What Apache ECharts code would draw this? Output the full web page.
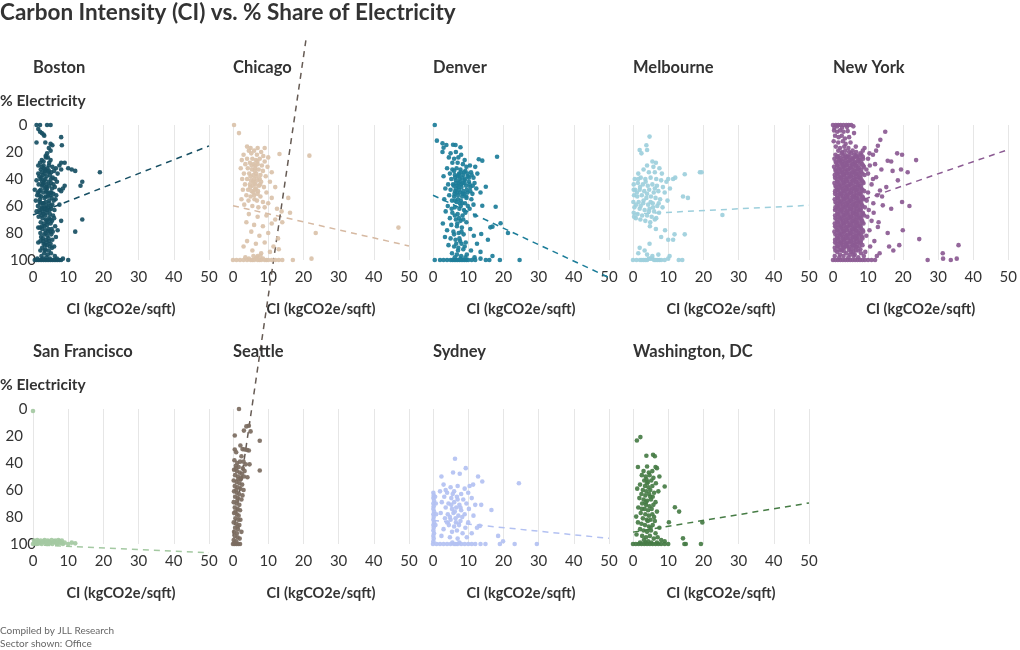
<!DOCTYPE html>
<html><head><meta charset="utf-8">
<script src="https://cdn.jsdelivr.net/npm/echarts@6/dist/echarts.min.js"></script>
<style>html,body{margin:0;padding:0;background:#fff}#c{width:1020px;height:650px}</style>
</head><body><div id="c"></div>
<script>
const cities = ['Boston','Chicago','Denver','Melbourne','New York','San Francisco','Seattle','Sydney','Washington, DC'];
const xTicks = [0,10,20,30,40,50];
const yTicks = [0,20,40,60,80,100];

const boston = [[1,0],[2,0],[4,0],[5,0],[1.5,3],[2,5],[2.5,6],[3,7],[3.2,8],[1,13],[3.5,13],[5,14],[5.5,15],[8,9],[8.2,15],[4.5,17],[5,19],[4,21],[3.6,23],[4.2,24],[2.5,26],[3,27],[5,26],[8,28],[9,28],[10,32],[11,33],[12,34],[19,35],[7.5,30],[6.5,32],[8,33],[7,36],[2,28],[3,30],[4.5,30],[5.5,31],[2.2,33],[3.4,34],[4.1,32],[5.2,35],[6,34],[1.5,36],[2.8,37],[3.9,38],[4.8,37],[5.6,39],[6.3,40],[1,41],[2.1,40],[3.2,41],[4.4,42],[5.1,43],[6.8,42],[14,42],[13.5,45],[9,45],[1.6,44],[2.6,45],[3.7,46],[4.6,45],[5.4,47],[6.2,46],[7.5,48],[8.5,47],[8,49],[0.5,48],[1.8,49],[2.9,50],[3.8,49],[4.9,50],[5.8,51],[1.2,52],[2.3,53],[3.3,54],[4.2,53],[5.3,54],[6.4,55],[0.8,56],[1.9,57],[2.8,58],[3.6,57],[4.5,58],[5.5,59],[7.5,59],[1.4,60],[2.5,61],[3.4,62],[4.3,61],[5.2,62],[6.1,63],[1,64],[2,65],[3,66],[3.9,65],[4.8,66],[5.7,67],[1.6,68],[2.7,69],[3.6,70],[4.6,69],[5.4,71],[8,71],[14,70],[2.2,72],[3.1,73],[4,74],[5,73],[6.3,75],[1.5,76],[2.6,77],[3.5,78],[4.4,77],[5.6,79],[7,78],[12,79],[2.1,80],[3.2,81],[4.1,82],[5.2,81],[6.5,83],[2.8,84],[3.7,85],[4.6,86],[5.5,85],[1.5,87],[3,88],[4,89],[5,88],[6,90],[2.6,91],[3.5,92],[4.5,93],[5.4,91],[3.2,95],[4.2,96],[5.1,95],[6.2,97],[2.4,97],[3.8,98],[0.5,100],[1,100],[1.5,100],[2,100],[2.5,100],[3,100],[3.5,100],[4,100],[4.5,100],[5,100],[5.5,100],[6,100],[6.5,100],[7,100],[7.5,100],[8,100],[8.5,99],[10,100],[1.2,99],[2.8,99],[4.8,99],[6.8,99],[2.5,35],[3,43],[4,47],[2,55],[3.8,60],[4.7,63],[2.4,67],[3.3,75],[4.3,79],[2.9,86],[4.9,52],[3.5,40],[2.2,48],[5.9,56],[1.8,63],[3,58],[4,50],[2.7,44],[3.6,53],[4.9,70],[2,76],[3.9,71],[5.3,77],[2.3,83],[3.4,89],[4.4,84],[3.1,32],[4.4,35],[2.4,39],[5.1,40],[3.8,44],[5.8,44],[1.4,50],[6.6,52],[1.5,30],[2.5,31],[3.5,33],[4.5,34],[1.8,38],[2.6,42],[3.4,47],[4.4,51],[2.2,58],[3.1,61],[4,63],[2.8,64],[3.5,67],[4.2,72],[2.6,75],[3.6,80],[4.9,79],[3.9,87],[2.1,93],[3.4,93],[4.8,90],[1.8,52],[4.6,56],[5.2,50],[2.4,62],[6,69],[2.1,86],[3.7,24],[4.6,28],[3.3,36],[5,60]];

const chicago = [[0.3,0],[1.7,6],[13.2,21.5],[21.7,22.7],[15.7,54],[16.2,65],[13.8,64],[23.5,80],[47,76],[22.3,99],[17,100],[4,16],[5,17],[7,17],[9,17],[4.5,19],[6,19],[8,20],[3,22],[5.2,21],[6.8,22],[8.6,23],[10,24],[2.5,26],[4,25],[5.5,25],[6.5,26],[7.6,25],[9,27],[3.5,29],[4.8,28],[5.9,29],[7,29],[8.2,30],[9.8,31],[2.2,32],[4.2,32],[5.4,33],[6.3,32],[7.3,33],[8.5,34],[11,35],[3.1,36],[4.6,36],[5.8,37],[6.6,36],[7.8,37],[9.3,38],[2.6,40],[4,40],[5.1,41],[6,40],[6.9,41],[8,42],[10.5,42],[3.4,44],[4.8,44],[5.6,45],[6.4,44],[7.4,45],[8.8,46],[12,46],[2.8,48],[4.3,48],[5.3,49],[6.2,48],[7.1,49],[9.5,50],[3.8,52],[5,53],[6,52],[7.8,53],[11,54],[2.4,55],[4.4,56],[6.8,56],[8.5,57],[10,58],[3.2,59],[5.5,60],[7.2,61],[9,61],[12.5,62],[6.2,34],[6.7,38],[5.7,42],[6.5,47],[7,51],[5,38],[7.6,40],[5.3,30],[6.9,27],[4.9,46],[6.1,55],[7.7,44],[5.8,50],[6.4,30],[6.1,43],[4.5,66],[7,68],[9.5,67],[12,70],[3.8,72],[6,74],[8.5,75],[11,73],[14,72],[5.2,79],[7.5,82],[10,80],[12.8,84],[4,86],[6.5,88],[9,87],[11.5,90],[13,92],[5.5,93],[8,95],[10.5,94],[7,97],[3,90],[0,100],[1,100],[2,100],[3,100],[4,100],[4.5,99],[5,100],[5.5,100],[6,100],[6.5,99],[7,100],[7.5,100],[8,100],[8.5,99],[9,100],[9.5,100],[10,100],[11,100],[12,100],[13,100],[14,100],[3.5,98],[5.8,97],[6.8,98],[7.8,97]];

const denver = [[0.5,0],[1.1,11.6],[2.7,13.6],[3.8,14.8],[3,16.8],[5.7,14.6],[6.4,14.8],[7.8,16.5],[2.7,20],[13,25.4],[14,26.4],[18.2,23.5],[15,45.7],[17.8,60.5],[19.2,72.8],[16.3,75.8],[16.9,75.3],[21.3,80],[15.6,85],[13.7,80.7],[14,59.8],[24.6,100],[16.9,97],[5,21],[6.5,20],[8,22],[4.5,24],[6,25],[7.2,24],[9,26],[5.5,28],[7,28],[8.5,29],[10.5,30],[12,31],[4,32],[5.5,33],[6.7,32],[7.8,33],[9.2,34],[10.8,35],[12.6,36],[4.8,36],[6.2,37],[7.4,36],[8.6,37],[9.9,38],[11.5,39],[3,38],[5.2,40],[6.5,41],[7.6,40],[8.9,41],[10.2,42],[11.8,43],[4.3,44],[5.7,44],[6.9,45],[8,44],[9.4,45],[10.6,46],[12.3,47],[3.5,47],[5,48],[6.3,49],[7.4,48],[8.6,49],[9.8,50],[11.2,51],[13.5,50],[4.6,52],[6,53],[7.1,52],[8.3,53],[9.5,54],[10.9,55],[3.2,55],[5.4,56],[6.7,57],[7.9,56],[9.1,58],[11.5,59],[4.2,60],[6.2,61],[7.5,62],[8.8,63],[10.4,62],[3.6,64],[5.5,65],[7,66],[8.4,67],[12,67],[4.8,69],[6.5,70],[7.8,71],[9.5,72],[2.8,73],[5.2,74],[6.8,75],[8.2,76],[10.6,77],[4,78],[5.8,79],[7.3,80],[8.7,81],[11.6,82],[3.4,83],[5,84],[6.4,85],[7.7,86],[9.3,87],[12.5,88],[4.4,89],[6,90],[7.2,91],[8.6,92],[10.8,93],[13.5,94],[5.4,95],[6.8,96],[8,97],[9.6,96],[11.8,98],[6,34],[7,38],[8.2,39],[9,43],[7.3,43],[8.1,46],[6.5,47],[7.7,50],[8.9,51],[9.6,48],[10.2,39],[6.6,43],[7.9,35],[9.5,31],[11,37],[7.1,55],[8.3,58],[9.9,60],[6.1,51],[7.9,60],[8.6,70],[6,81],[7.5,84],[8.1,88],[6.9,73],[6.3,39],[7.7,42],[9.1,40],[10.4,44],[6.8,50],[8.4,51],[9.4,53],[10.6,49],[7.4,37],[8.8,35],[5.9,45],[11.3,45],[7.2,46],[8.5,43],[9.8,36],[6.2,56],[7.6,58],[5.3,62],[9.2,65],[6.2,67],[7.4,69],[8.1,79],[6.6,88],[7.1,93],[9,90],[0.5,100],[2,100],[3,100],[4,100],[5,100],[5.5,100],[6,100],[6.5,100],[7,100],[7.5,100],[8,100],[8.5,100],[9,100],[9.5,100],[10,100],[11,100],[12,100],[13.5,99],[15,100],[16,100],[19,100],[6.2,98],[7.8,99],[9.2,98]];

const melbourne = [[4.7,8.6],[3.8,15],[4,18.5],[1.9,18.5],[2.4,21],[10,40],[11.4,40],[12,39],[14.7,36.5],[19,35],[19.5,35],[14.2,53],[15.6,54],[25.4,66.7],[1.9,91],[3.3,93],[4.7,88],[8,83],[10,85],[11.4,85],[11.8,81],[14.7,81],[10.4,97],[5.5,27],[6.5,28],[4,30],[5.8,31],[7.5,32],[3,33],[1.5,36],[4.5,35],[6.2,35],[8.2,36],[0.5,40],[2.2,39],[3.5,40],[5,39],[6.6,40],[8,41],[9.5,42],[0.2,44],[1.4,43],[2.8,44],[4.2,45],[5.5,44],[6.8,45],[8.5,46],[10.5,47],[0.6,48],[1.9,48],[3.2,49],[4.6,48],[5.9,50],[7.2,49],[9,50],[0.3,52],[1.2,53],[2.5,52],[3.8,54],[5.1,53],[6.4,54],[7.7,55],[9.8,56],[0.1,57],[1.6,57],[2.9,58],[4.3,59],[5.6,58],[6.9,60],[8.4,61],[0.4,61],[1.9,62],[3.3,63],[4.7,62],[6,64],[7.4,65],[0.2,65],[1.3,66],[2.6,67],[4,67],[5.3,68],[6.6,69],[0.8,69],[2.1,70],[3.5,71],[4.9,72],[6.2,70],[3,56],[4,51],[5,57],[2,46],[3.6,42],[6.2,47],[1.1,50],[2.2,60],[4.5,64],[5.7,61],[7.3,58],[1.5,40],[0.9,59],[0.2,48],[0.3,68],[4.8,75],[6.5,77],[9.1,78],[0,100],[1,100],[2,100],[2.5,100],[3,100],[3.5,100],[4,100],[4.5,99],[5,99],[5.5,99],[6,100],[6.5,100],[7,100],[7.5,100],[8,100],[9,100],[10,99],[13,100],[14,100],[1.5,95],[4,96],[5.5,97],[7.2,96]];

const newYork = [[0,0],[0.8,0],[1.5,0],[2.2,0],[3,0],[3.8,0],[4.5,0],[5.2,0],[0.4,2],[1.2,1],[2.6,2],[4,1.5],[5.8,1],[0.3,4],[1.2,5],[2,4],[3,5],[4.2,4.5],[6,6],[0.6,8],[1.6,9],[2.5,8],[3.4,10],[4.6,9],[0.2,12],[1.5,13],[2.8,12],[3.6,14],[5,13],[0.8,16],[2,17],[3.2,16],[4.4,17],[6.5,16],[9,17],[1.5,19],[2.6,20],[3.5,19],[4.6,20],[5.6,19],[6.6,20],[7.8,21],[8.5,19],
[0.7,22],[1.6,23],[2.5,21],[3.4,22],[4.3,23],[5.2,21],[6.1,22],[7,23],[8.1,22],
[0.4,25],[1.3,24],[2.2,26],[3.1,25],[4,24],[4.9,26],[5.8,25],[6.7,24],[7.6,26],[8.6,25],
[0.9,28],[1.8,27],[2.7,29],[3.6,28],[4.5,27],[5.4,29],[6.3,28],[7.2,27],[8.3,29],
[0.3,31],[1.2,30],[2.1,32],[3,31],[3.9,30],[4.8,32],[5.7,31],[6.6,30],[7.5,32],[8.8,31],
[0.8,34],[1.7,33],[2.6,35],[3.5,34],[4.4,33],[5.3,35],[6.2,34],[7.1,33],[8,35],
[0.5,37],[1.4,36],[2.3,38],[3.2,37],[4.1,36],[5,38],[5.9,37],[6.8,36],[7.7,38],[9,37],
[1,40],[1.9,39],[2.8,41],[3.7,40],[4.6,39],[5.5,41],[6.4,40],[7.3,39],[8.2,41],
[0.4,43],[1.3,42],[2.2,44],[3.1,43],[4,42],[4.9,44],[5.8,43],[6.7,42],[7.6,44],[8.7,43],
[0.9,46],[1.8,45],[2.7,47],[3.6,46],[4.5,45],[5.4,47],[6.3,46],[7.2,45],[8.1,47],
[0.6,49],[1.5,48],[2.4,50],[3.3,49],[4.2,48],[5.1,50],[6,49],[6.9,48],[7.8,50],[8.9,49],
[1.1,52],[2,51],[2.9,53],[3.8,52],[4.7,51],[5.6,53],[6.5,52],[7.4,51],[8.4,53],
[0.5,55],[1.4,54],[2.3,56],[3.2,55],[4.1,54],[5,56],[5.9,55],[6.8,54],[7.7,56],[8.8,55],
[1,58],[1.9,57],[2.8,59],[3.7,58],[4.6,57],[5.5,59],[6.4,58],[7.3,57],[8.2,59],
[0.7,61],[1.6,60],[2.5,62],[3.4,61],[4.3,60],[5.2,62],[6.1,61],[7,60],[7.9,62],[9.1,61],
[1.2,64],[2.1,63],[3,65],[3.9,64],[4.8,63],[5.7,65],[6.6,64],[7.5,63],[8.5,65],
[0.6,67],[1.5,66],[2.4,68],[3.3,67],[4.2,66],[5.1,68],[6,67],[6.9,66],[7.8,68],[8.9,67],
[1,70],[1.9,69],[2.8,71],[3.7,70],[4.6,69],[5.5,71],[6.4,70],[7.3,69],[8.3,71],
[0.5,73],[1.4,72],[2.3,74],[3.2,73],[4.1,72],[5,74],[5.9,73],[6.8,72],[7.7,74],[8.7,73],
[0.9,76],[1.8,75],[2.7,77],[3.6,76],[4.5,75],[5.4,77],[6.3,76],[7.2,75],[8.1,77],
[0.4,79],[1.3,78],[2.2,80],[3.1,79],[4,78],[4.9,80],[5.8,79],[6.7,78],[7.6,80],[8.6,79],
[1.1,82],[2,81],[2.9,83],[3.8,82],[4.7,81],[5.6,83],[6.5,82],[7.4,81],[8.3,83],
[0.6,85],[1.5,84],[2.4,86],[3.3,85],[4.2,84],[5.1,86],[6,85],[6.9,84],[7.9,86],
[1,88],[1.9,87],[2.8,89],[3.7,88],[4.6,87],[5.5,89],[6.4,88],[7.3,87],[8.4,89],
[0.5,91],[1.4,90],[2.3,92],[3.2,91],[4.1,90],[5,92],[5.9,91],[6.8,90],[7.8,92],
[1.2,94],[2.5,93],[3.8,95],[5.2,94],[6.5,93],[8,95],
[1.1,23.5],[2,24.5],[2.9,23],[3.8,24],[4.7,23.5],[5.6,24.5],[6.5,23],[7.4,24],[8.5,23.5],
[0.8,27],[1.7,26],[2.6,27.5],[3.5,26.5],[4.4,27],[5.3,26],[6.2,27.5],[7.1,26.5],[8,27],
[1.2,30],[2.1,29],[3,30.5],[3.9,29.5],[4.8,30],[5.7,29],[6.6,30.5],[7.5,29.5],[8.6,30],
[0.7,33],[1.6,32],[2.5,33.5],[3.4,32.5],[4.3,33],[5.2,32],[6.1,33.5],[7,32.5],[8.1,33],
[1.1,36],[2,35],[2.9,36.5],[3.8,35.5],[4.7,36],[5.6,35],[6.5,36.5],[7.4,35.5],[8.4,36],
[0.6,39],[1.5,38],[2.4,39.5],[3.3,38.5],[4.2,39],[5.1,38],[6,39.5],[6.9,38.5],[7.9,39],
[1.2,42],[2.1,41],[3,42.5],[3.9,41.5],[4.8,42],[5.7,41],[6.6,42.5],[7.5,41.5],[8.5,42],
[0.7,45],[1.6,44],[2.5,45.5],[3.4,44.5],[4.3,45],[5.2,44],[6.1,45.5],[7,44.5],[8,45],
[1.1,48],[2,47],[2.9,48.5],[3.8,47.5],[4.7,48],[5.6,47],[6.5,48.5],[7.4,47.5],[8.4,48],
[0.6,51],[1.5,50],[2.4,51.5],[3.3,50.5],[4.2,51],[5.1,50],[6,51.5],[6.9,50.5],[7.9,51],
[1.2,54],[2.1,53],[3,54.5],[3.9,53.5],[4.8,54],[5.7,53],[6.6,54.5],[7.5,53.5],[8.5,54],
[0.7,57],[1.6,56],[2.5,57.5],[3.4,56.5],[4.3,57],[5.2,56],[6.1,57.5],[7,56.5],[8,57],
[1.1,60],[2,59],[2.9,60.5],[3.8,59.5],[4.7,60],[5.6,59],[6.5,60.5],[7.4,59.5],[8.4,60],
[0.6,63],[1.5,62],[2.4,63.5],[3.3,62.5],[4.2,63],[5.1,62],[6,63.5],[6.9,62.5],[7.9,63],
[1.2,66],[2.1,65],[3,66.5],[3.9,65.5],[4.8,66],[5.7,65],[6.6,66.5],[7.5,65.5],[8.5,66],
[0.7,69],[1.6,68],[2.5,69.5],[3.4,68.5],[4.3,69],[5.2,68],[6.1,69.5],[7,68.5],[8,69],
[1.1,72],[2,71],[2.9,72.5],[3.8,71.5],[4.7,72],[5.6,71],[6.5,72.5],[7.4,71.5],[8.4,72],
[0.6,75],[1.5,74],[2.4,75.5],[3.3,74.5],[4.2,75],[5.1,74],[6,75.5],[6.9,74.5],[7.9,75],
[1.2,78],[2.1,77],[3,78.5],[3.9,77.5],[4.8,78],[5.7,77],[6.6,78.5],[7.5,77.5],[8.5,78],
[0.7,81],[1.6,80],[2.5,81.5],[3.4,80.5],[4.3,81],[5.2,80],[6.1,81.5],[7,80.5],[8,81],
[1.1,84],[2,83],[2.9,84.5],[3.8,83.5],[4.7,84],[5.6,83],[6.5,84.5],[7.4,83.5],[8.4,84],
[0.6,87],[1.5,86],[2.4,87.5],[3.3,86.5],[4.2,87],[5.1,86],[6,87.5],[6.9,86.5],[7.9,87],
[1.2,90],[2.1,89],[3,90.5],[3.9,89.5],[4.8,90],[5.7,89],[6.6,90.5],[7.5,89.5],
[0.7,93],[1.8,92.5],[3.1,93.5],[4.5,92.5],[5.8,94],[7.2,93],[2,96],[4.9,96],[6.2,96],
[14.9,5],[13.5,11],[12.8,15.4],[12.3,19],[10.4,21],[11.4,22],[15.6,26.5],[16.6,27],[18.3,21],[19.7,22],[23.7,26],[17,34],[19.4,33],[18.5,41],[15.2,46],[21.3,35],[19.7,57],[21.8,60],[16.6,62],[14.2,59.5],[15.6,80],[19.9,78],[18.9,89],[17.2,93],[16,90],[24.6,84.5],[13.3,95],[35.8,89],[31.3,95],[35.3,99],[31.4,99],[33.6,100],[27,100],[12.8,75.5],[13,72],[14,53],[13.4,48.5],[11.4,40],[12.3,38.7],[10,25],[10.5,30],[9.5,33],[11,44],[10,50],[9.6,56],[11.5,58],[10.2,63],[9.8,68],[11,71],[10.4,78],[9.5,82],[11.8,86],[10.6,90],[9.2,94],[12.5,97],[10,36],[12,29],[13.8,33],[11.6,65],[12.6,52],
[0,100],[0.7,100],[1.4,100],[2.1,100],[2.8,100],[3.5,100],[4.2,100],[4.9,100],[5.6,100],[6.3,100],[7,100],[7.7,100],[8.4,100],[9.1,100],[10,100],[11,100],[12,100],[0.5,97],[1.8,98],[3,97],[4.4,98],[5.9,97],[7.2,98],[8.8,97]];

const sanFrancisco = [[0,1.5],[0,100],[0.5,99],[1,100],[1.5,98],[2,99],[2.5,100],[3,98],[3.5,99],[4,100],[4.5,98],[5,99],[5.5,100],[6,98],[6.5,99],[7,100],[7.5,98],[8,99],[8.5,100],[9,99],[0.3,97.5],[1.2,97],[2.2,97.5],[3.3,97],[4.2,97.5],[5.3,97],[6.3,97.5],[7.2,97],[8.2,97.5],[10,100],[11,99],[12,99.5],[0.8,98.5],[1.8,99.5],[2.8,98.5],[3.8,99],[4.8,99.5],[5.8,98.5],[6.8,99.5],[7.8,99]];

const seattle = [[1.7,0],[0.5,19.6],[3.1,16],[3.8,12.9],[4.5,12.4],[5,16.6],[7.6,23.5],[7.6,45.5],[0.5,30],[0.9,32],[2.1,27],[2.7,29.7],[3.3,30],[4,30.4],[4.5,30.7],[2.4,35],[3,39],[3.6,41],[4.7,41],[4.1,50.5],[0.4,38],[1.2,40],[2,39],[0.8,42],[1.6,43],[0.3,45],[1.1,46],[1.9,47],[0.6,49],[1.4,50],[2.3,51],[0.2,53],[1,54],[1.8,55],[0.5,57],[1.3,58],[2.1,59],[0.3,61],[1.1,62],[1.7,63],[0.6,65],[1.4,66],[2.4,67],[0.2,69],[1,70],[1.8,71],[0.5,73],[1.3,74],[2,75],[0.3,77],[1.1,78],[1.6,79],[0.7,81],[1.5,82],[2.1,82],[0.2,84],[1,85],[1.8,86],[0.6,88],[1.4,89],[0.3,91],[1.1,92],[2.4,91],[0.5,94],[1.3,95],[1.9,96],[0.2,97],[0.9,98],[0,100],[0.5,100],[1,100],[1.5,100],[2,100],[0.8,44],[1.5,52],[0.9,60],[1.2,68],[0.7,76],[1.3,87],[0.4,99],[2.8,44],[3.3,46],[2.5,48],[3.1,50],[2.2,52],[2.6,56],[3,60],[2.7,64]];

const sydney = [[6.25,36.9],[9.3,43.8],[5.7,47],[7.6,48],[2.4,50],[12.8,50],[14,53.7],[11.4,56],[10.4,57],[24.4,55],[13.7,71],[16.6,74.8],[13.3,86.6],[18.5,94],[19.9,98],[19,100],[23.2,100],[29.5,100],[14.9,100],[0.1,62],[0.2,64],[0.1,66],[0.3,68],[0.1,70],[0.2,72],[0.1,74],[0.3,76],[0.1,78],[0.2,80],[0.1,82],[0.3,84],[0.1,86],[0.2,88],[0.1,90],[0.3,92],[0.1,94],[0.2,96],[0.1,98],[0.8,70],[0.9,78],[0.7,86],[0.6,65],[3,56],[5,58],[7,57],[9,59],[2,61],[4,62],[6,61],[8,63],[10,62],[3.2,65],[5.2,66],[6.8,65],[8.6,67],[11,66],[2.5,69],[4.4,70],[6,69],[7.5,71],[9.5,70],[12,71],[3.6,73],[5.4,74],[6.6,73],[8,75],[10.2,74],[2.2,77],[4.2,78],[5.8,77],[7.2,79],[9,78],[11.5,79],[3.4,81],[5,82],[6.4,81],[7.8,83],[10,84],[4.5,86],[6,87],[7.4,86],[9.2,88],[3,89],[5.4,91],[6.8,90],[8.4,92],[2.4,94],[4.8,95],[7,96],[9.6,95],[5.6,63],[7,67],[6.2,76],[4.8,80],[8.3,80],[5.2,71],[7.8,73],[6.5,84],[4,84],[3.6,60],[12.5,88],[11,92],[0,100],[1,100],[2,100],[3,100],[4,100],[5,100],[5.5,99],[6,100],[6.5,100],[7,100],[7.5,99],[8,100],[9,100],[10,100],[11,100],[12,100],[13.5,100]];

const washingtonDC = [[1.1,23.3],[2.1,20.8],[3.8,34.6],[5.7,33.9],[6.2,35],[1.4,43],[4,42.6],[6.4,43],[6.8,43.8],[9,57.4],[11.9,72.8],[13.1,76],[10.2,83.9],[19.7,84],[14.2,95.8],[15,100],[14.6,100],[19.3,100],[0.9,79.7],[3,46],[4.5,47],[5.5,46],[2.5,49],[3.6,50],[4.7,49],[5.8,51],[7.5,50],[3.2,53],[4.2,54],[5.2,53],[6.5,55],[2,56],[3.4,57],[4.4,58],[5.5,57],[1.2,59],[2.8,60],[3.8,61],[4.9,60],[6,62],[7.2,61],[2.4,63],[3.5,64],[4.6,63],[5.6,65],[1.8,66],[3,67],[4,68],[5.1,67],[6.4,69],[2.6,70],[3.7,71],[4.7,72],[5.8,71],[1.5,73],[3.3,74],[4.3,75],[5.3,74],[6.8,76],[2.2,77],[3.5,78],[4.5,79],[5.5,78],[2.8,81],[3.9,82],[5,82],[6.2,83],[1.4,84],[2.4,85],[3.4,86],[4.5,87],[5.6,86],[7.5,88],[2,89],[3,90],[4,91],[5.1,90],[6.4,92],[1,93],[2.6,94],[3.7,95],[4.8,94],[5.9,96],[7,95],[3.1,97],[4.3,98],[8,97],[9,98],[4,55],[3.6,69],[4.2,83],[4.9,65],[3.8,52],[5,88],[2.5,74],[6,80],[0,100],[0.8,100],[1.6,100],[2.4,100],[3.2,100],[4,100],[4.8,100],[5.6,100],[6.4,100],[7.2,100],[8,100],[9,100],[10,100],[2,99],[3.6,99],[5.2,99],[6.8,99]];

const trendBoston = [[0,66.7],[50,15.5]];
const trendChicago = [[0,59.8],[50,89.6]];
const trendDenver = [[0,52],[50,113]];
const trendMelbourne = [[0,66],[50,59.5]];
const trendNewYork = [[0,63],[50,18]];
const trendSanFrancisco = [[0,100.6],[50,106.5]];
const trendSeattle = [[0,94],[20.7,-273]];
const trendSydney = [[0,82.6],[50,95.8]];
const trendWashingtonDC = [[0,91.2],[50,69.6]];

const pointSets = [boston, chicago, denver, melbourne, newYork, sanFrancisco, seattle, sydney, washingtonDC];
const trendSets = [trendBoston, trendChicago, trendDenver, trendMelbourne, trendNewYork, trendSanFrancisco, trendSeattle, trendSydney, trendWashingtonDC];

const colors = ['#174f63','#dac2aa','#1c7d99','#9dcfdc','#8b5a92','#a4c9a2','#7b6b60','#b3c1f2','#467c45'];
const lineColors = ['#174f63','#d6b9a2','#1c7d99','#9dcfdc','#8b5a92','#a4c9a2','#665b54','#b3c1f2','#467c45'];

const FONT = 'Lato';
const PX_PER_Y = 1.35; // 135px per 100 units
const grids = [], xAxes = [], yAxes = [], series = [], titles = [];
titles.push({text:'Carbon Intensity (CI) vs. % Share of Electricity', left:0, top:1, padding:0,
  textStyle:{fontFamily:FONT, fontWeight:'bold', fontSize:22.5, color:'#333'}});
titles.push({text:'Compiled by JLL Research\nSector shown: Office', left:0, top:625, padding:0,
  textStyle:{fontFamily:FONT, fontWeight:'normal', fontSize:10, lineHeight:12.5, color:'#666'}});

function xAxisFor(gi, show) {
  return {type:'value', gridIndex:gi, min:xTicks[0], max:xTicks[xTicks.length-1], interval:xTicks[1]-xTicks[0], show:show,
    name:'CI (kgCO2e/sqft)', nameLocation:'middle', nameGap:42,
    nameTextStyle:{fontFamily:FONT, fontWeight:'bold', fontSize:14.5, color:'#333'},
    axisLine:{show:false}, axisTick:{show:false},
    axisLabel:{fontFamily:FONT, fontSize:15, color:'#333', margin:10, showMinLabel:true, showMaxLabel:true,
      alignMinLabel:'center', alignMaxLabel:'center', hideOverlap:false},
    splitLine:{show:true, lineStyle:{color:'#e6e6e6', width:1}}};
}

cities.forEach((name, i) => {
  const row = Math.floor(i / 5), col = i % 5;
  const left = 33 + col * 200;
  const top = row === 0 ? 125 : 409;
  grids.push({left:left, top:top, width:176, height:135});
  titles.push({text:name, left:left, top:top - 66, padding:0,
    textStyle:{fontFamily:FONT, fontWeight:'bold', fontSize:16.5, color:'#333'}});
  if (col === 0) titles.push({text:'% Electricity', left:0, top:top - 32, padding:0,
    textStyle:{fontFamily:FONT, fontWeight:'bold', fontSize:15.5, color:'#333'}});
  xAxes.push(xAxisFor(i, true));
  yAxes.push({type:'value', gridIndex:i, inverse:true, min:yTicks[0], max:yTicks[yTicks.length-1], interval:yTicks[1]-yTicks[0],
    axisLine:{show:false}, axisTick:{show:false}, splitLine:{show:false},
    axisLabel:{show: col === 0, fontFamily:FONT, fontSize:15, color:'#333', margin:10,
      alignMinLabel:'center', alignMaxLabel:'center'}});
  series.push({type:'scatter', xAxisIndex:i, yAxisIndex:i, data:pointSets[i], symbolSize:4.6, z:2,
    itemStyle:{color:colors[i], opacity:0.92}});
});

// Trend lines: each drawn in an invisible companion grid sharing the panel's x scale
// and y scale (same pixels per unit) but spanning a taller value range, so lines that
// overshoot the panel are still drawn through the library's own axes.
cities.forEach((name, i) => {
  const row = Math.floor(i / 5), col = i % 5;
  const left = 33 + col * 200;
  const top = row === 0 ? 125 : 409;
  const lo = row === 0 ? -60 : -300, hi = 130;
  const gi = grids.length;
  grids.push({left:left, top: top + lo * PX_PER_Y, width:176, height:(hi - lo) * PX_PER_Y});
  xAxes.push(xAxisFor(gi, false));
  yAxes.push({type:'value', gridIndex:gi, inverse:true, min:lo, max:hi, show:false, splitLine:{show:false}});
  series.push({type:'line', xAxisIndex:gi, yAxisIndex:gi, data:trendSets[i], clip:false, symbol:'none',
    silent:true, z:1, lineStyle:{color:lineColors[i], width:1.5, type:[6,5]}});
});

const chart = echarts.init(document.getElementById('c'), null, {renderer:'canvas'});
chart.setOption({animation:false, backgroundColor:'#fff', title:titles, grid:grids, xAxis:xAxes, yAxis:yAxes, series:series});
</script></body></html>
